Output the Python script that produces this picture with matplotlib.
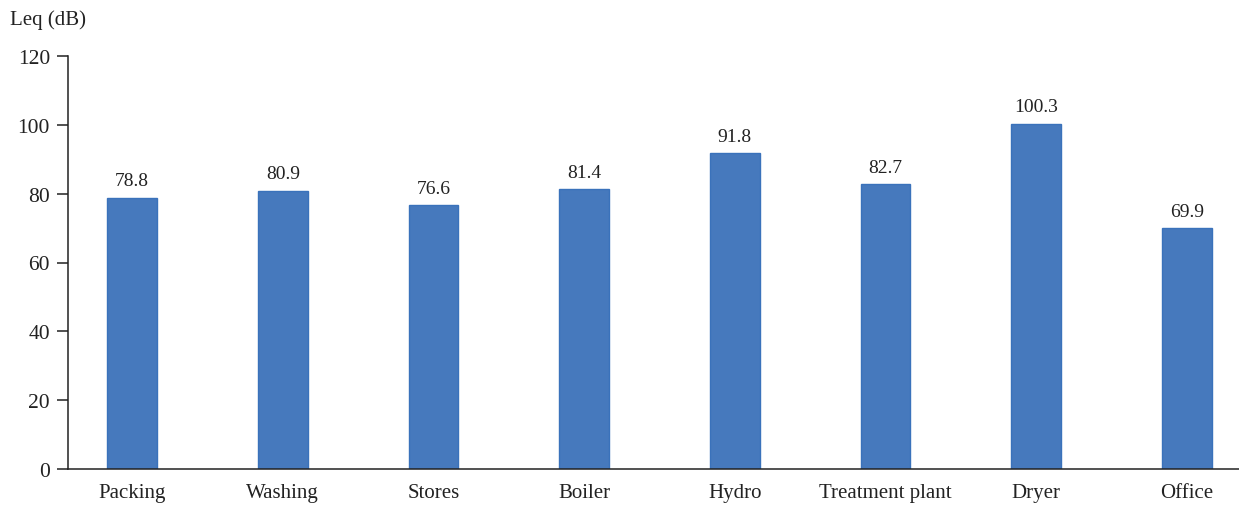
import matplotlib.pyplot as plt

plt.rcParams['font.family'] = ['Liberation Serif', 'DejaVu Serif']

# equivalent continuous sound level per work area
areas = ['Packing', 'Washing', 'Stores', 'Boiler', 'Hydro',
         'Treatment plant', 'Dryer', 'Office']
leq_db = [78.8, 80.9, 76.6, 81.4, 91.8, 82.7, 100.3, 69.9]
y_ticks = [0, 20, 40, 60, 80, 100, 120]

fig = plt.figure(figsize=(12.39, 5.06), dpi=100)
ax = fig.add_axes([68 / 1239, 36 / 506, 1 - 68 / 1239, 413 / 506])

x = range(len(areas))
bars = ax.bar(x, leq_db, width=0.33, color='#4679bd',
              edgecolor='#3a72bb', linewidth=1)

for rect, v in zip(bars, leq_db):
    ax.annotate('%.1f' % v, (rect.get_x() + rect.get_width() / 2, v),
                xytext=(0, 6), textcoords='offset points',
                ha='center', va='bottom', fontsize=14, color='#222222')

ax.set_xlim(-0.425, 7.345)
ax.set_ylim(0, 120)
ax.set_yticks(y_ticks)
ax.set_xticks(list(x))
ax.set_xticklabels(areas)

ax.spines['top'].set_visible(False)
ax.spines['right'].set_visible(False)
for s in ('left', 'bottom'):
    ax.spines[s].set_color('#222222')
    ax.spines[s].set_linewidth(1.1)

ax.tick_params(axis='y', direction='out', length=8, width=1.1,
               color='#222222', labelsize=15.5, pad=5, labelcolor='#222222')
ax.tick_params(axis='x', length=0, labelsize=15, pad=10, labelcolor='#222222')

fig.text(10 / 1239, 1 - 20 / 506, 'Leq (dB)', fontsize=15,
         ha='left', va='center', color='#222222')

plt.savefig('out.png', dpi=100)
